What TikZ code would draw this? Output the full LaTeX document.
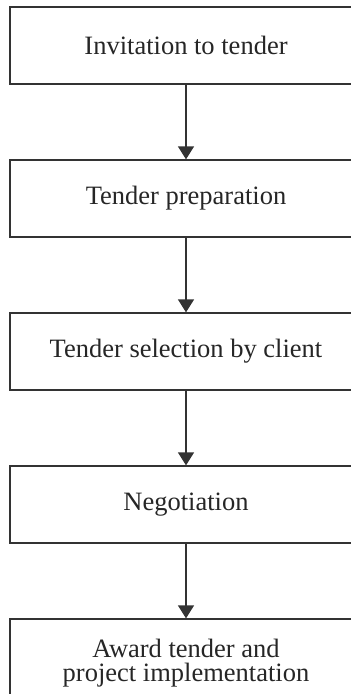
\documentclass[tikz,border=0pt]{standalone}
\usepackage{fontspec}
\setmainfont{Liberation Serif}
\usetikzlibrary{arrows.meta}
\definecolor{linegray}{HTML}{333333}
\begin{document}
\begin{tikzpicture}[x=1pt,y=1pt,
  stagefont/.style={font=\fontsize{26.5}{24}\selectfont, text=black!85, align=center, inner sep=0pt},
  stagebox/.style={stagefont, draw=linegray, line width=1.3pt, minimum width=352pt, minimum height=77pt},
  flow/.style={draw=linegray, line width=1.3pt, -{Triangle[width=16pt,length=13pt]}}]
\useasboundingbox (0,0) rectangle (351,-694);
\node[stagebox] (a) at (186,-45.5) {Invitation to tender};
\node[stagebox] (b) at (186,-198.5) {Tender preparation};
\node[stagebox] (c) at (186,-351.5) {Tender selection by client};
\node[stagebox] (d) at (186,-504.5) {Negotiation};
\node[stagebox] (e) at (186,-657.5) {};
\node[stagefont, yshift=-6pt] (etext) at (e.center) {Award tender and\\project implementation};
\draw[flow] (a) -- (b);
\draw[flow] (b) -- (c);
\draw[flow] (c) -- (d);
\draw[flow] (d) -- (e);
\end{tikzpicture}
\end{document}
